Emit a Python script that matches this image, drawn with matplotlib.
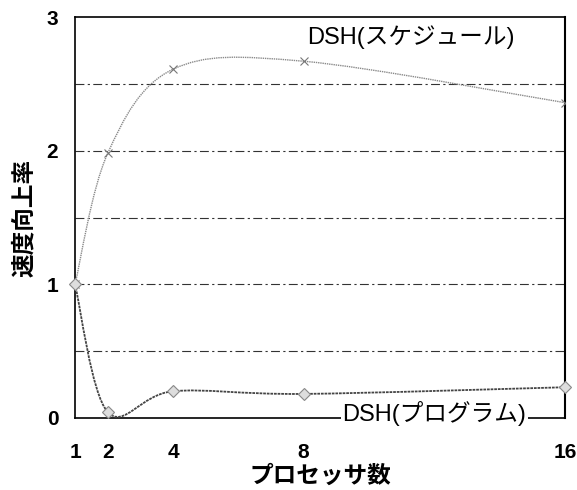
import numpy as np
import matplotlib.pyplot as plt
from matplotlib.path import Path
from matplotlib.patches import PathPatch

plt.rcParams['font.family'] = ['Liberation Sans', 'Noto Sans CJK JP', 'DejaVu Sans']

# processors vs speedup
procs = [1, 2, 4, 8, 16]
dsh_schedule = [1.0, 1.98, 2.61, 2.67, 2.36]
dsh_program = [1.0, 0.045, 0.20, 0.18, 0.23]
xticks = [1, 2, 4, 8, 16]
yticks = [0, 1, 2, 3]


def smooth_path(x, y, t=1/6):
    # cubic bezier through the points (excel style smoothed line)
    x = np.asarray(x, float)
    y = np.asarray(y, float)
    px = np.concatenate([[x[0]], x, [x[-1]]])
    py = np.concatenate([[y[0]], y, [y[-1]]])
    verts = [(x[0], y[0])]
    codes = [Path.MOVETO]
    for i in range(len(x) - 1):
        j = i + 1
        c1 = (px[j] + (px[j + 1] - px[j - 1]) * t, py[j] + (py[j + 1] - py[j - 1]) * t)
        c2 = (px[j + 1] - (px[j + 2] - px[j]) * t, py[j + 1] - (py[j + 2] - py[j]) * t)
        verts += [c1, c2, (x[i + 1], y[i + 1])]
        codes += [Path.CURVE4] * 3
    return Path(verts, codes)


fig = plt.figure(figsize=(5.77, 4.90), dpi=100)
ax = fig.add_axes([0.130, 0.147, 0.849, 0.818])

ax.set_xlim(1, 16)
ax.set_ylim(0, 3)

for yv in [0.5, 1, 1.5, 2, 2.5]:
    ax.axhline(yv, color='#333333', lw=0.8, ls=(0, (8, 3, 2, 3)), zorder=1)

ax.add_patch(PathPatch(smooth_path(procs, dsh_schedule), fill=False,
                       ec='#8a8a8a', lw=1.0, ls=(0, (1, 0.6)), zorder=3))
ax.add_patch(PathPatch(smooth_path(procs, dsh_program), fill=False,
                       ec='#444444', lw=1.3, ls=(0, (1.5, 0.5)), zorder=3))

ax.plot(procs, dsh_schedule, ls='none', marker='x', ms=6, mew=0.8,
        color='#777777', zorder=4)
ax.plot(procs, dsh_program, ls='none', marker='D', ms=6, mfc='#dddddd',
        mec='#888888', mew=0.8, zorder=4, clip_on=False)

for s in ['left', 'bottom', 'top']:
    ax.spines[s].set_linewidth(1.2)
ax.spines['right'].set_linewidth(1.5)

ax.set_xticks(xticks)
ax.set_xticklabels([str(v) for v in xticks], fontsize=15, fontweight='bold')
ax.set_yticks(yticks)
ax.set_yticklabels([str(v) for v in yticks], fontsize=15, fontweight='bold')
ax.tick_params(axis='x', length=0, pad=18)
ax.tick_params(axis='y', length=0, pad=12)

ax.set_xlabel('プロセッサ数', fontsize=17, fontweight='bold', labelpad=2)
ax.set_ylabel('速度向上率', fontsize=17, fontweight='bold', labelpad=8)

ax.text(8.1, 2.85, 'DSH(スケジュール)', fontsize=17, ha='left', va='center', zorder=5)
ax.text(12.0, 0.03, 'DSH(プログラム)', fontsize=17, ha='center', va='center',
        zorder=5, bbox=dict(fc='white', ec='none', pad=1.0), clip_on=False)

fig.savefig('out.png', dpi=100)
